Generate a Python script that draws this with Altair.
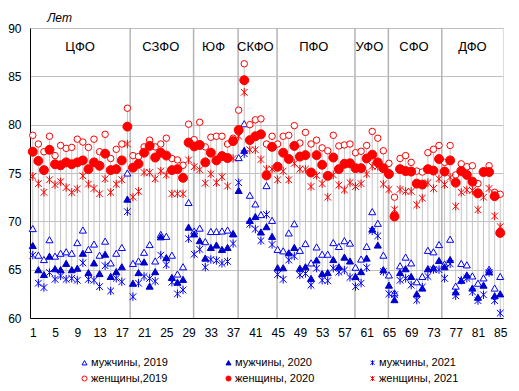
import altair as alt
import pandas as pd

regions = list(range(1, 86))

m2019 = [69.25, 66.5, 66.05, 68.1, 66.4, 66.7, 66.85, 66.7, 67.8, 69.1, 67.1, 67.65, 66.5, 67.95, 65.7, 66.7, 67.3, 75.0,
         65.65, 65.9, 66.8, 67.6, 65.9, 68.65, 68.45, 66.5, 64.55, 65.3, 71.95,
         69.0, 69.3, 67.9, 68.95, 68.95, 69.0, 69.1, 68.75,
         76.6, 80.1, 72.7, 71.8, 70.7, 73.7, 70.1,
         67.1, 66.95, 68.8, 69.75, 67.0, 67.7, 65.7, 67.35, 66.6, 66.6, 67.8, 67.4, 68.0, 67.75,
         65.25, 66.1, 67.4, 71.0, 69.8, 66.5,
         64.45, 62.6, 65.4, 66.3, 65.7, 63.75, 64.3, 67.0, 66.85, 67.6,
         65.6, 68.15, 63.3, 65.65, 65.5, 64.35, 63.6, 64.15, 65.05, 63.1, 64.3]

m2020 = [67.5, 65.0, 64.5, 66.4, 65.1, 65.0, 65.65, 65.0, 65.15, 66.7, 64.7, 65.7, 64.6, 66.6, 64.3, 64.8, 65.3, 72.3,
         63.6, 64.7, 65.8, 63.3, 64.8, 68.4, 66.25, 64.2, 63.7, 64.0, 69.4,
         68.7, 68.0, 66.2, 67.3, 67.55, 67.1, 67.3, 68.7,
         73.2, 77.35, 70.1, 70.5, 68.9, 69.45, 68.45,
         65.2, 65.2, 66.75, 67.3, 65.15, 65.3, 64.1, 66.0, 64.6, 64.7, 66.05, 65.3, 66.3, 65.9,
         64.3, 64.8, 66.2, 69.2, 67.55, 65.0,
         63.4, 61.9, 64.7, 65.1, 64.3, 62.5, 63.1, 65.1, 65.2, 65.95,
         65.3, 66.05, 62.7, 63.9, 64.45, 63.1, 62.15, 63.4, 64.8, 62.3, 62.5]

m2021 = [66.5, 63.6, 63.15, 64.7, 64.0, 64.35, 64.0, 64.1, 63.9, 65.7, 64.0, 63.9, 63.25, 65.4, 62.8, 64.1, 63.75, 71.0,
         62.2, 63.6, 64.3, 64.1, 63.8, 66.5, 65.5, 63.7, 62.5, 62.9, 68.2,
         66.6, 67.1, 65.25, 66.05, 65.95, 65.65, 65.85, 67.7,
         74.0, 77.0, 69.7, 69.2, 68.0, 70.7, 67.6,
         64.5, 64.0, 66.0, 66.4, 64.45, 64.6, 63.4, 65.15, 63.9, 63.85, 65.15, 64.75, 64.95, 64.2,
         63.25, 63.6, 65.2, 69.0, 68.5, 64.8,
         62.5, 62.4, 63.9, 64.1, 63.4, 61.85, 63.2, 64.3, 65.0, 65.0,
         64.1, 65.6, 62.3, 63.9, 64.1, 62.7, 61.8, 62.4, 64.7, 61.8, 60.5]

f2019 = [78.9, 78.0, 77.2, 78.8, 76.8, 77.85, 77.55, 77.65, 78.5, 78.2, 77.65, 78.5, 77.2, 79.0, 76.5, 77.45, 78.0, 81.7,
         76.8, 76.7, 77.7, 78.4, 77.7, 78.0, 78.6, 76.5, 76.35, 75.8, 80.05,
         78.45, 80.25, 77.7, 78.7, 78.8, 78.8, 78.0, 78.6,
         81.5, 86.3, 80.0, 80.5, 80.6, 78.0, 78.8,
         78.0, 78.8, 78.9, 79.9, 78.1, 79.2, 78.0, 78.4, 77.6, 77.3, 78.9, 77.8, 77.9, 78.0,
         77.1, 77.25, 77.85, 79.3, 78.6, 77.3,
         76.0, 72.5, 76.5, 76.8, 76.1, 75.2, 75.1, 77.1, 77.45, 77.85,
         76.1, 77.85, 74.8, 75.95, 75.65, 75.75, 73.9, 75.2, 75.75, 73.0, 72.8]

f2020 = [77.2, 76.25, 75.3, 77.4, 75.9, 75.8, 76.1, 75.9, 76.1, 76.3, 75.4, 76.1, 75.75, 77.0, 75.3, 75.4, 76.3, 79.8,
         75.55, 75.95, 77.1, 77.8, 76.6, 77.1, 76.8, 75.3, 75.4, 74.5, 78.15,
         77.75, 77.9, 76.1, 77.1, 76.3, 76.75, 76.55, 78.3,
         79.45, 84.6, 78.4, 78.8, 79.0, 74.75, 77.7,
         75.65, 77.1, 76.45, 77.8, 76.7, 76.85, 75.05, 76.85, 75.85, 74.7, 76.6, 75.4, 75.95, 76.0,
         75.5, 75.5, 76.5, 76.9, 76.1, 75.5,
         74.9, 70.5, 75.4, 75.2, 75.15, 73.9, 73.8, 75.4, 75.25, 76.45,
         75.15, 76.3, 74.0, 75.2, 74.8, 74.1, 72.9, 75.1, 75.1, 72.6, 68.8]

f2021 = [74.65, 73.9, 73.0, 74.3, 73.8, 74.1, 73.5, 73.0, 73.35, 74.7, 73.85, 73.4, 72.85, 74.4, 73.0, 73.85, 74.3, 78.0,
         72.5, 73.1, 75.05, 75.05, 74.4, 75.2, 74.8, 72.85, 72.85, 72.85, 76.35,
         75.65, 75.35, 73.95, 74.9, 74.0, 74.6, 73.65, 76.5,
         78.8, 83.35, 77.4, 77.4, 76.4, 75.4, 75.4,
         74.3, 75.2, 74.3, 76.0, 75.4, 75.4, 73.6, 74.75, 73.9, 72.5, 74.8, 73.75, 73.25, 74.0,
         73.6, 73.9, 74.9, 75.7, 75.7, 73.85,
         73.3, 71.2, 73.3, 73.1, 73.1, 71.7, 72.4, 74.0, 73.4, 74.4,
         73.8, 74.55, 71.55, 73.0, 73.25, 73.2, 71.2, 72.5, 73.4, 70.55, 69.45]

series_names = ["мужчины, 2019", "мужчины, 2020", "мужчины, 2021",
                "женщины,2019", "женщины, 2020", "женщины, 2021"]
series_values = [m2019, m2020, m2021, f2019, f2020, f2021]

districts = ["ЦФО", "СЗФО", "ЮФ", "СКФО", "ПФО", "УФО", "СФО", "ДФО"]
district_sizes = [18, 11, 8, 7, 14, 6, 10, 11]
district_dividers = [18.5, 29.9, 37.9, 44.9, 58.9, 64.9, 74.5]

tick_values = list(range(1, 86, 4))
y_ticks = [60, 65, 70, 75, 80, 85, 90]
label_level = 88.0

# styles
ASTER = "M0,-1L0,1M-0.8,-0.8L0.8,0.8M-0.8,0.8L0.8,-0.8"
shape_range = ["triangle-up", "triangle-up", ASTER, "circle", "circle", ASTER]
fill_range = ["white", "#0000cc", "transparent", "white", "#ff0000", "transparent"]
stroke_range = ["#0000ff", "#0000cc", "#0000ff", "#ff0000", "#ff0000", "#ff0000"]
size_range = [50, 50, 70, 42, 80, 70]

rows = []
for k, (name, vals) in enumerate(zip(series_names, series_values)):
    for r, v in zip(regions, vals):
        rows.append({"region": r, "series": name, "value": v, "k": k, "sz": size_range[k]})
pts = pd.DataFrame(rows)

rng = pd.DataFrame({
    "region": regions,
    "lo": [min(t) for t in zip(*series_values)],
    "hi": [max(t) for t in zip(*series_values)],
})

centers = []
start = 1
for n in district_sizes:
    centers.append((start + start + n - 1) / 2)
    start += n
lab = pd.DataFrame({"name": districts, "center": centers, "ty": [label_level] * len(districts)})
sep = pd.DataFrame({"pos": district_dividers})

FONT = "Liberation Sans"
xscale = alt.Scale(domain=[0.5, 85.5], nice=False, zero=False)
yscale = alt.Scale(domain=[60, 90], nice=False, zero=False)
xaxis = alt.Axis(title=None, values=tick_values, grid=False, ticks=False, tickSize=0,
                 labelPadding=9, labelFontSize=12, labelFont=FONT, labelColor="#000000",
                 domainColor="#000000", labelFlush=False, labelOverlap=False)
yaxis = alt.Axis(title="Лет", titleAngle=0, titleX=29, titleY=-11, titleAlign="center",
                 titleBaseline="middle", titleFontStyle="italic", titleFontWeight="normal",
                 titleFontSize=12, titleFont=FONT, titleColor="#000000",
                 values=y_ticks, grid=True, gridColor="#c0c0c0", ticks=False, tickSize=0,
                 labelPadding=9, labelFontSize=12, labelFont=FONT, labelColor="#000000",
                 domainColor="#000000", labelFlush=False, labelOverlap=False)

leg = alt.Legend(title=None, orient="none", legendX=49, legendY=329, columns=3,
                 direction="horizontal",
                 columnPadding=52, rowPadding=4, labelFontSize=11, labelFont=FONT,
                 labelColor="#000000", symbolSize=25, symbolStrokeWidth=1, labelOffset=1,
                 padding=0, gridAlign="all")

sep_layer = alt.Chart(sep).mark_rule(color="#b4b4b4", strokeWidth=1.5).encode(
    x=alt.X("pos:Q", scale=xscale, axis=xaxis)
)
rule_layer = alt.Chart(rng).mark_rule(color="#c4c4c4", strokeWidth=1).encode(
    x=alt.X("region:Q", scale=xscale, axis=xaxis),
    y=alt.Y("lo:Q", scale=yscale, axis=yaxis),
    y2="hi:Q",
)
pt_layer = alt.Chart(pts).mark_point(opacity=1, strokeWidth=1).encode(
    x=alt.X("region:Q", scale=xscale, axis=xaxis),
    y=alt.Y("value:Q", scale=yscale, axis=yaxis),
    shape=alt.Shape("series:N", scale=alt.Scale(domain=series_names, range=shape_range), legend=leg),
    fill=alt.Fill("series:N", scale=alt.Scale(domain=series_names, range=fill_range), legend=leg),
    stroke=alt.Stroke("series:N", scale=alt.Scale(domain=series_names, range=stroke_range), legend=leg),
    size=alt.Size("sz:Q", scale=None),
    order=alt.Order("k:Q"),
)
txt_layer = alt.Chart(lab).mark_text(fontSize=13, font=FONT, color="#000000",
                                     align="center", baseline="middle").encode(
    x=alt.X("center:Q", scale=xscale, axis=xaxis),
    y=alt.Y("ty:Q", scale=yscale, axis=yaxis),
    text="name:N",
)

chart = alt.layer(sep_layer, rule_layer, pt_layer, txt_layer).properties(
    width=473, height=290,
    autosize=alt.AutoSizeParams(type="none"),
    padding={"left": 22, "top": 20, "right": 8, "bottom": 72},
).configure_view(stroke="#000000", strokeWidth=1).configure(font=FONT, background="white")

chart.save("out.html", embed_options={"renderer": "svg", "actions": False})
